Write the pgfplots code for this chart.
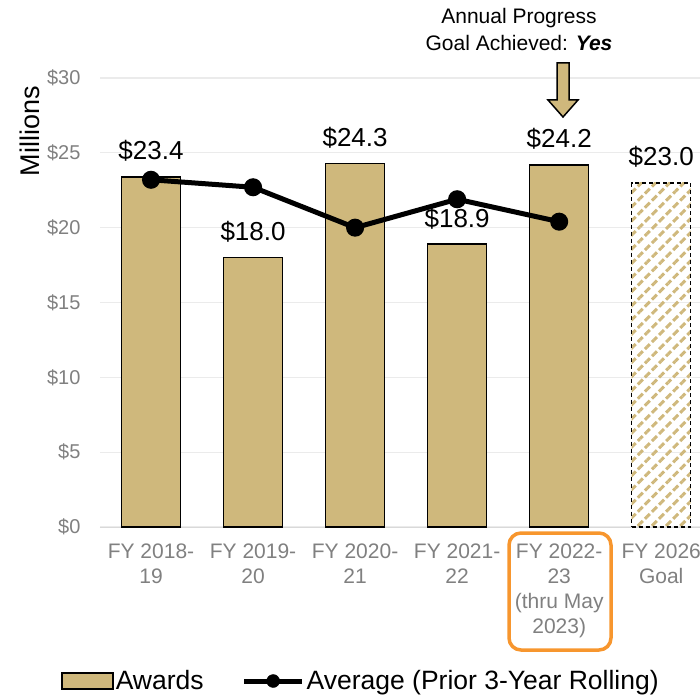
\documentclass[border=0pt]{standalone}
\usepackage{pgfplots}
\pgfplotsset{compat=1.18}
\usepackage{fontspec}
\setmainfont{Liberation Sans}
\usetikzlibrary{patterns.meta}
\definecolor{cugold}{HTML}{CFB87C}
\definecolor{tickgray}{HTML}{808080}
\definecolor{cuorange}{HTML}{F7962E}
\definecolor{gridgray}{HTML}{EBEBEB}
\definecolor{axisgray}{HTML}{D9D9D9}
\begin{document}
\begin{tikzpicture}
\useasboundingbox (-100pt,-170pt) rectangle (600pt,527pt);
\begin{axis}[
  scale only axis,
  width=600pt, height=449pt,
  xmin=-0.5, xmax=5.38,
  ymin=0, ymax=30,
  clip=false,
  axis x line*=bottom,
  axis y line*=left,
  y axis line style={draw=none},
  x axis line style={draw=axisgray, line width=1pt, -},
  major tick length=0pt,
  ymajorgrids,
  grid style={gridgray, line width=1.2pt},
  ytick={0,5,10,15,20,25,30},
  yticklabels={\$0,\$5,\$10,\$15,\$20,\$25,\$30},
  yticklabel style={font=\fontsize{20}{24}\selectfont, text=tickgray, xshift=-16pt},
  xtick={0,1,2,3,4,5},
  xticklabels={{FY 2018-\\19},{FY 2019-\\20},{FY 2020-\\21},{FY 2021-\\22},{FY 2022-\\23\\(thru May\\2023)},{FY 2026\\Goal}},
  xticklabel style={font=\fontsize{21}{25}\selectfont, text=tickgray, align=center, yshift=-13pt, anchor=north},
  legend style={at={(0.435,-0.343)}, anchor=center, draw=none, fill=none,
    font=\fontsize{26.5}{30}\selectfont, legend columns=2,
    /tikz/every even column/.append style={column sep=36pt}},
  legend cell align=left,
]
\addplot[ybar, bar width=59pt, bar shift=0pt, fill=cugold, draw=black, line width=1.5pt, forget plot,
  nodes near coords={\$\pgfmathprintnumber[fixed,fixed zerofill,precision=1,assume math mode=true]{\pgfplotspointmeta}},
  every node near coord/.append style={anchor=base, yshift=17pt, inner sep=0pt, font=\fontsize{26}{28}\selectfont, text=black}]
  coordinates {(0,23.4) (1,18.0) (2,24.3) (3,18.9) (4,24.2)};
\addplot[ybar, bar width=59pt, bar shift=0pt, pattern={Lines[angle=45,distance=10pt,line width=3pt]}, pattern color=cugold, draw=black, line width=1.5pt, dash pattern=on 4pt off 3pt, forget plot,
  nodes near coords={\$\pgfmathprintnumber[fixed,fixed zerofill,precision=1,assume math mode=true]{\pgfplotspointmeta}},
  every node near coord/.append style={anchor=base, yshift=17pt, inner sep=0pt, font=\fontsize{26}{28}\selectfont, text=black, solid}]
  coordinates {(5,23.0)};
\addplot[black, line width=5pt, mark=*, mark size=6.5pt, forget plot]
  coordinates {(0,23.2) (1,22.7) (2,20.0) (3,21.9) (4,20.4)};
\addlegendimage{legend image code/.code={\draw[fill=cugold,draw=black,line width=1.5pt] (0pt,-8pt) rectangle (51pt,8pt);}}
\addlegendentry{Awards}
\addlegendimage{legend image code/.code={\draw[black,line width=5pt] (0pt,0pt) -- (58pt,0pt); \fill[black] (29pt,0pt) circle (6.5pt);}}
\addlegendentry{Average (Prior 3-Year Rolling)}
\end{axis}
% y label
\node[rotate=90, font=\fontsize{27}{30}\selectfont] at (-70pt,396pt) {Millions};
% annotation
\node[align=center, font=\fontsize{21}{27}\selectfont, anchor=center] at (419pt,498pt) {Annual Progress\\Goal Achieved: \textbf{\textit{Yes}}};
\draw[fill=cugold, draw=black, line width=1.5pt, line join=miter]
  (457pt,464pt) -- (469pt,464pt) -- (469pt,427pt) -- (478pt,427pt) -- (463pt,410pt) -- (448pt,427pt) -- (457pt,427pt) -- cycle;
% highlight box
\draw[cuorange, line width=3.5pt, rounded corners=12pt] (409pt,-6pt) rectangle (511pt,-123pt);
\end{tikzpicture}
\end{document}
